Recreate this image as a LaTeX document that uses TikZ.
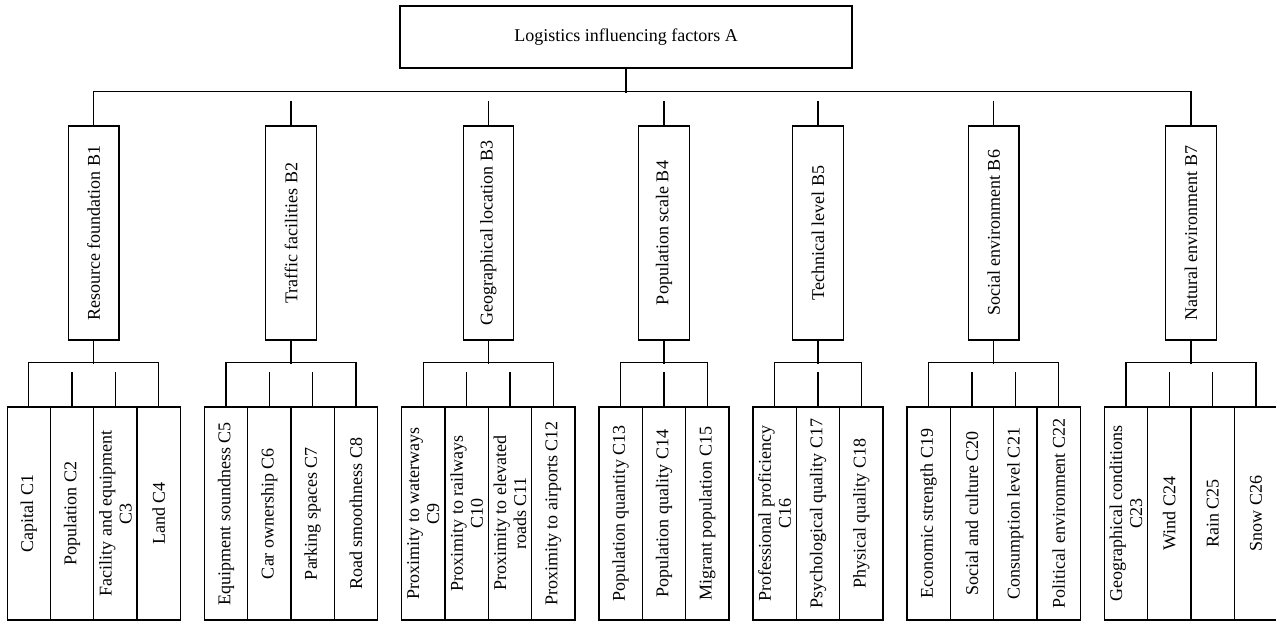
\documentclass[tikz,border=0pt]{standalone}
\usepackage{fontspec}
\setmainfont{Liberation Serif}
\usepackage{tikz}

\tikzset{
  topbox/.style={draw, minimum width=452pt, minimum height=62pt},
  midbox/.style={draw, rotate=90, minimum width=214pt, minimum height=50.5pt, inner sep=2pt},
  leafbox/.style={draw, rotate=90, minimum width=213pt, minimum height=43.3pt, inner sep=2pt, align=center},
}

\begin{document}
\begin{tikzpicture}[x=1pt, y=1pt, line width=1.1pt, font=\fontsize{18}{20}\selectfont]
  \useasboundingbox (0,0) rectangle (1276,-622);

  % goal
  \node[topbox] (a) at (626,-37) {Logistics influencing factors A};

  % criteria
  \node[midbox] (b1) at (93.7,-233)  {Resource foundation B1};
  \node[midbox] (b2) at (291,-233)   {Traffic facilities B2};
  \node[midbox] (b3) at (488.3,-233) {Geographical location B3};
  \node[midbox] (b4) at (664,-233)   {Population scale B4};
  \node[midbox] (b5) at (818,-233)   {Technical level B5};
  \node[midbox] (b6) at (993.7,-233) {Social environment B6};
  \node[midbox] (b7) at (1191,-233)  {Natural environment B7};

  % sub-criteria, group number / label
  \foreach \g/\txt [count=\i] in {
      0/Capital C1, 0/Population C2, 0/{Facility and equipment\\C3}, 0/Land C4,
      1/Equipment soundness C5, 1/Car ownership C6, 1/Parking spaces C7, 1/Road smoothness C8,
      2/{Proximity to waterways\\C9}, 2/{Proximity to railways\\C10},
      2/{Proximity to elevated\\roads C11}, 2/Proximity to airports C12,
      3/Population quantity C13, 3/Population quality C14, 3/Migrant population C15,
      4/{Professional proficiency\\C16}, 4/Psychological quality C17, 4/Physical quality C18,
      5/Economic strength C19, 5/Social and culture C20, 5/Consumption level C21,
      5/Political environment C22,
      6/{Geographical conditions\\C23}, 6/Wind C24, 6/Rain C25, 6/Snow C26}
    \node[leafbox] (c\i) at ({28.7+43.33*(\i-1)+24*\g},-513.5) {\txt};

  % A to B
  \draw (a.south) -- ++(0,-24);
  \draw (b1.east) -- ++(0,34) -| (b7.east);
  \foreach \k in {2,...,6}
    \draw (b\k.east) -- ++(0,24);

  % B to C
  \foreach \k/\first/\last in {1/1/4, 2/5/8, 3/9/12, 4/13/15, 5/16/18, 6/19/22, 7/23/26} {
    \draw (b\k.west) -- ++(0,-23);
    \draw (c\first.east) -- ++(0,44) -| (c\last.east);
  }
  \foreach \k in {2,3,6,7,10,11,14,17,20,21,24,25}
    \draw (c\k.east) -- ++(0,34);
\end{tikzpicture}
\end{document}
